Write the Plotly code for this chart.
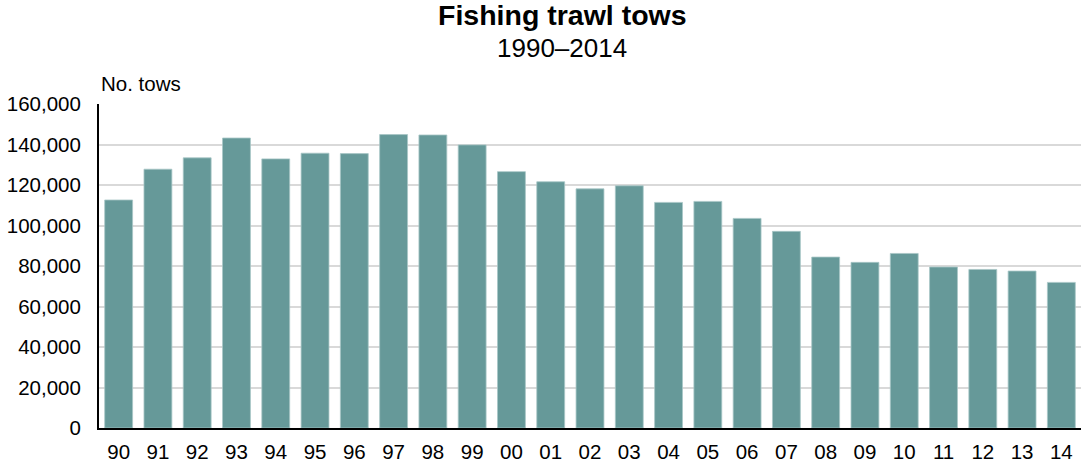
import plotly.graph_objects as go

years = ["90", "91", "92", "93", "94", "95", "96", "97", "98", "99",
         "00", "01", "02", "03", "04", "05", "06", "07", "08", "09",
         "10", "11", "12", "13", "14"]
tows = [112600, 127800, 133400, 143200, 132900, 135700, 135500, 144900, 144700, 139800,
        126600, 121600, 118100, 119600, 111400, 111900, 103500, 97100, 84400, 81800,
        86200, 79500, 78300, 77500, 71900]
y_ticks = [0, 20000, 40000, 60000, 80000, 100000, 120000, 140000, 160000]
y_labels = ["0", "20,000", "40,000", "60,000", "80,000", "100,000", "120,000", "140,000", "160,000"]

FONT = "Liberation Sans, Arial, sans-serif"

fig = go.Figure()
fig.add_trace(go.Bar(
    x=years, y=tows,
    marker=dict(color="#669999", line=dict(color="#a8c6c6", width=0.8)),
    hoverinfo="x+y",
))

fig.update_layout(
    width=1081, height=465,
    margin=dict(l=99, r=0, t=104, b=37, autoexpand=False),
    paper_bgcolor="white", plot_bgcolor="white",
    bargap=0.29,
    showlegend=False,
    font=dict(family=FONT, size=20.5, color="black"),
    xaxis=dict(
        type="category", range=[-0.5, 24.5], automargin=False,
        showline=True, linecolor="black", linewidth=2,
        showgrid=False, ticks="", tickfont=dict(size=20.5),
        ticklabelstandoff=4,
    ),
    yaxis=dict(
        range=[0, 160000], tickvals=y_ticks, ticktext=y_labels, automargin=False,
        showline=True, linecolor="black", linewidth=2,
        showgrid=True, gridcolor="#d9d9d9", gridwidth=1.5,
        zeroline=False, ticks="", tickfont=dict(size=20.5),
        ticklabelstandoff=12,
    ),
    annotations=[
        dict(text="<b>Fishing trawl tows</b>", xref="paper", yref="paper",
             x=0.4715, y=1, xanchor="center", yanchor="bottom", yshift=71,
             showarrow=False, font=dict(size=28.5, family=FONT)),
        dict(text="1990–2014", xref="paper", yref="paper",
             x=0.4715, y=1, xanchor="center", yanchor="bottom", yshift=39,
             showarrow=False, font=dict(size=26, family=FONT)),
        dict(text="No. tows", xref="paper", yref="paper",
             x=0, y=1, xanchor="left", yanchor="bottom", yshift=7, xshift=0,
             showarrow=False, font=dict(size=20.5, family=FONT)),
    ],
)

fig.write_html("out.html", config={"displayModeBar": False},
               post_script="document.body.style.margin='0';document.body.style.padding='0';")
